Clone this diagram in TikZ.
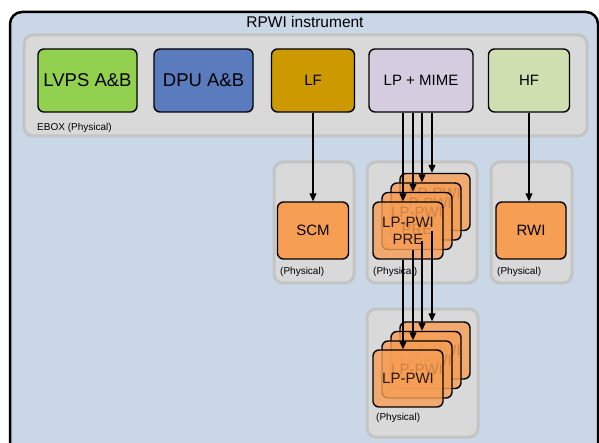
\documentclass[tikz,border=0pt]{standalone}
\usepackage{fontspec}
\setmainfont{Liberation Sans}
\usetikzlibrary{arrows.meta}
\definecolor{outerbg}{HTML}{C9D7E6}
\definecolor{contfill}{HTML}{D9D9D9}
\definecolor{contline}{HTML}{C4C4C4}
\definecolor{lvpsc}{HTML}{92D050}
\definecolor{dpuc}{HTML}{5A7BBD}
\definecolor{lfc}{HTML}{CC9900}
\definecolor{lpmc}{HTML}{D5CCE0}
\definecolor{hfc}{HTML}{D0DFB0}
\definecolor{orng}{HTML}{F79E55}
\tikzset{
  cont/.style={draw=contline, fill=contfill, line width=3pt, rounded corners=9pt},
  unitbox/.style={draw=black, line width=1.4pt, rounded corners=6pt, inner sep=0pt, align=center},
  bigtxt/.style={font=\fontsize{18.5}{21}\selectfont},
  midtxt/.style={font=\fontsize{15}{17}\selectfont},
  smalltxt/.style={font=\fontsize{10}{12}\selectfont, anchor=west, inner sep=0pt},
  orbox/.style={unitbox, fill=orng, fill opacity=0.8, text opacity=0.85, minimum width=70pt, minimum height=57pt, midtxt},
  arr/.style={line width=1.2pt, -{Triangle[length=8pt,width=7pt]}},
  pln/.style={line width=1.2pt}
}
\begin{document}
\begin{tikzpicture}[x=1pt,y=-1pt]
\useasboundingbox (0,0) rectangle (599,443);
\clip (0,0) rectangle (599,443);
% outer frame
\draw[line width=2.5pt, fill=outerbg, rounded corners=12pt] (10,12) rectangle (598,480);
\node[font=\fontsize{15.5}{18}\selectfont] (title) at (305,22) {RPWI instrument};
% EBOX
\draw[cont] (24,35) rectangle (587,136);
\node[smalltxt] (eboxlbl) at (37,128) {EBOX (Physical)};
\node[unitbox, bigtxt, fill=lvpsc, minimum width=99pt, minimum height=63pt] (lvps) at (87.5,80.5) {LVPS A\&B};
\node[unitbox, bigtxt, fill=dpuc, minimum width=99pt, minimum height=63pt] (dpu) at (203.5,80.5) {DPU A\&B};
\node[unitbox, midtxt, fill=lfc, minimum width=83pt, minimum height=63pt] (lf) at (313,80.5) {LF};
\node[unitbox, midtxt, fill=lpmc, minimum width=104pt, minimum height=63pt] (lpm) at (421,80.5) {LP + MIME};
\node[unitbox, midtxt, fill=hfc, minimum width=81pt, minimum height=63pt] (hf) at (529,80.5) {HF};
% SCM container
\draw[cont] (274,162) rectangle (354,283);
\node[smalltxt] (scmlbl) at (280,272) {(Physical)};
\node[unitbox, midtxt, fill=orng, minimum width=71pt, minimum height=57pt] (scm) at (313,230.5) {SCM};
% RWI container
\draw[cont] (491,162) rectangle (572,283);
\node[smalltxt] (rwilbl) at (497,272) {(Physical)};
\node[unitbox, midtxt, fill=orng, minimum width=70pt, minimum height=57pt] (rwi) at (531,230.5) {RWI};
% LP-PWI PRE container
\draw[cont] (367,162) rectangle (477,283);
\node[smalltxt] (prelbl) at (373,272) {(Physical)};
% lower container
\draw[cont] (367,309) rectangle (478,437);
\node[smalltxt] (lowlbl) at (376,418) {(Physical)};
% upper stack (back to front)
\node[orbox] (p3) at (435,202) {LP-PWI\\PRE};
\node[orbox] (p2) at (426,211.5) {LP-PWI\\PRE};
\node[orbox] (p1) at (417,221) {LP-PWI\\PRE};
\node[orbox] (p0) at (408,230.5) {LP-PWI\\PRE};
% lower stack (back to front)
\node[orbox] (q3) at (435,350.5) {LP-PWI};
\node[orbox] (q2) at (426,360) {LP-PWI};
\node[orbox] (q1) at (417,369.5) {LP-PWI};
\node[orbox] (q0) at (408,378.5) {LP-PWI};
% connectors
\draw[arr] (lf.south) -- (lf.south |- scm.north);
\draw[arr] (hf.south) -- (hf.south |- rwi.north);
\draw[arr] ([xshift=-5pt]p0.north |- lpm.south) -- ([xshift=-5pt]p0.north);
\draw[arr] ([xshift=-4pt]p1.north |- lpm.south) -- ([xshift=-4pt]p1.north);
\draw[arr] ([xshift=-4pt]p2.north |- lpm.south) -- ([xshift=-4pt]p2.north);
\draw[arr] ([xshift=-3pt]p3.north |- lpm.south) -- ([xshift=-3pt]p3.north);
\draw[arr] ([xshift=-5pt]p0.south) -- ([xshift=-5pt]q0.north);
\draw[arr] ([xshift=-4pt]p1.south) -- ([xshift=-4pt]q1.north);
\draw[arr] ([xshift=-4pt]p2.south) -- ([xshift=-4pt]q2.north);
\draw[arr] ([xshift=-3pt]p3.south) -- ([xshift=-3pt]q3.north);
\end{tikzpicture}
\end{document}
